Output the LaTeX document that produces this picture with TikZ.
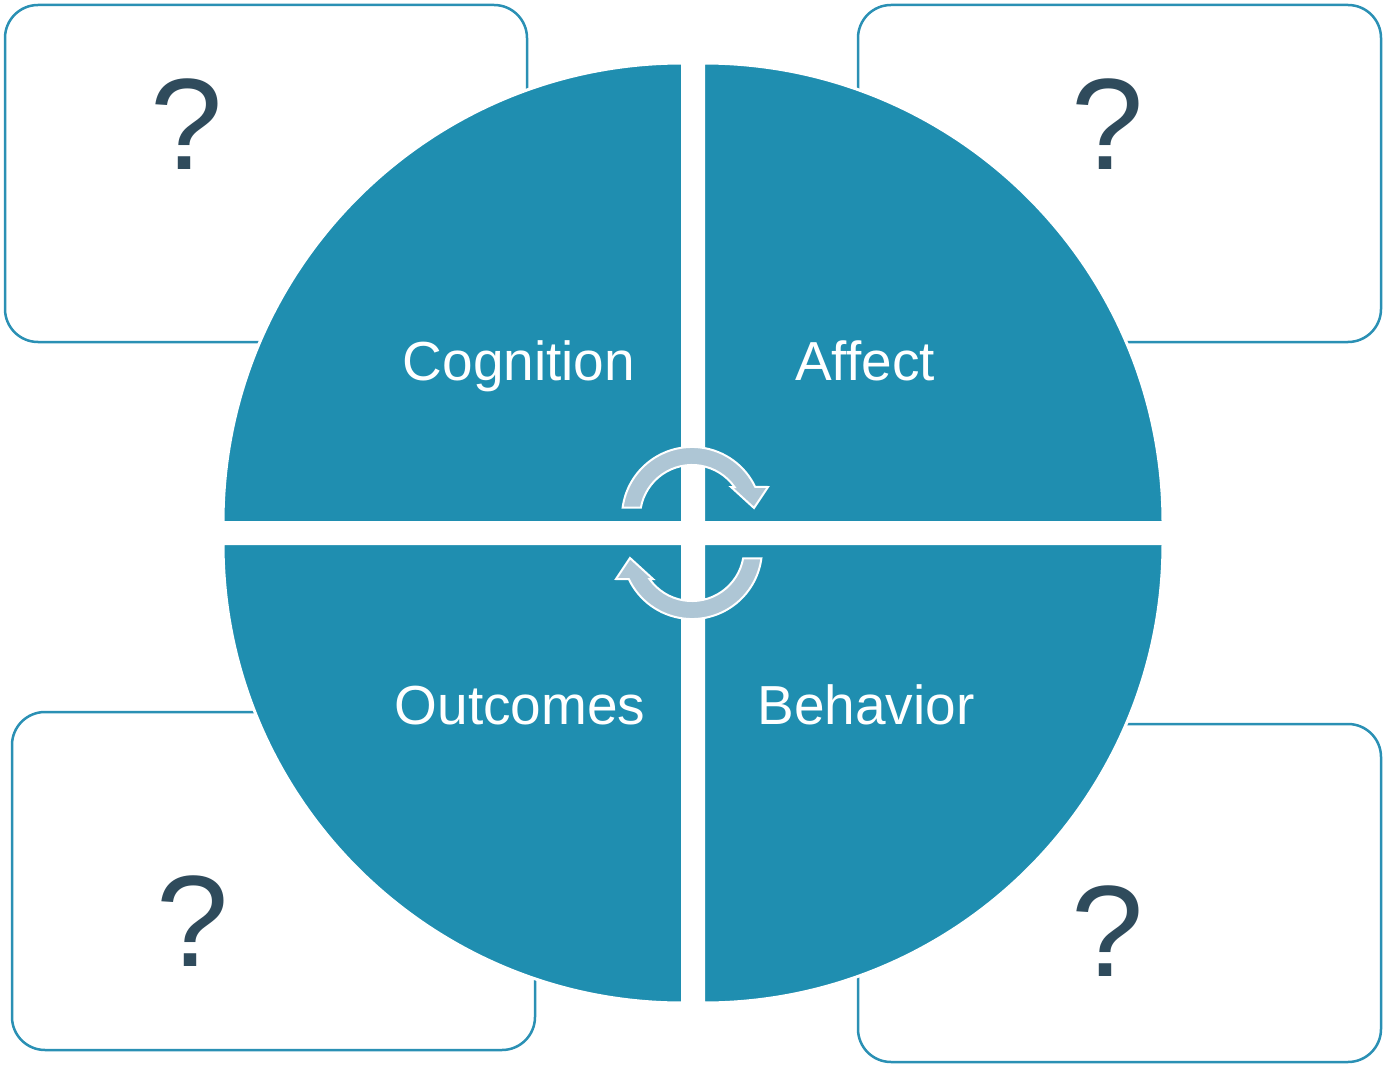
\documentclass[tikz,border=0pt]{standalone}
\usepackage{fontspec}
\setmainfont{Liberation Sans}
\definecolor{cmTeal}{HTML}{1F8EB0}
\definecolor{cmLine}{HTML}{2A90B4}
\definecolor{cmArrow}{HTML}{AEC6D5}
\definecolor{cmSlate}{HTML}{2F4B5C}
\usetikzlibrary{positioning}

\begin{document}
\begin{tikzpicture}[x=1pt, y=-1pt,
    notebox/.style={cmLine, line width=2.5pt, rounded corners=33pt},
    quarter/.style={fill=cmTeal, draw=white, line width=3pt},
    cyclearrow/.style={fill=cmArrow, draw=white, line width=2pt, line join=miter},
    label/.style={text=white, font=\fontsize{55}{60}\selectfont, anchor=base},
    qmark/.style={text=cmSlate, font=\fontsize{130}{140}\selectfont, anchor=base}]
  \useasboundingbox (0,0) rectangle (1384,1067);
  % boxes behind the circle
  \draw[notebox] (5,5) rectangle (527,342);
  \draw[notebox] (858,5) rectangle (1381,342);
  \draw[notebox] (12,712) rectangle (535,1050);
  \draw[notebox] (858,724) rectangle (1381,1062);
  % the four quarters
  \draw[quarter] (682.5,522.5) -- ++(-459.5,0) arc[start angle=180, end angle=270, radius=459.5] -- cycle;
  \draw[quarter] (703.5,522.5) -- ++(0,-459.5) arc[start angle=270, end angle=360, radius=459.5] -- cycle;
  \draw[quarter] (703.5,543.5) -- ++(459.5,0) arc[start angle=0, end angle=90, radius=459.5] -- cycle;
  \draw[quarter] (682.5,543.5) -- ++(0,459.5) arc[start angle=90, end angle=180, radius=459.5] -- cycle;
  % cycle arrows
  \draw[cyclearrow] (622.6,507.7) arc[start angle=187.6, end angle=334.6, radius=70]
    -- (768,487) -- (754,508) -- (731,487) -- (734.5,487)
    arc[start angle=324.8, end angle=190.3, radius=52] -- cycle;
  \begin{scope}[rotate around={180:(692,533)}]
    \draw[cyclearrow] (622.6,507.7) arc[start angle=187.6, end angle=334.6, radius=70]
      -- (768,487) -- (754,508) -- (731,487) -- (734.5,487)
      arc[start angle=324.8, end angle=190.3, radius=52] -- cycle;
  \end{scope}
  % labels
  \node[label] (cognition) at (519,380) {Cognition};
  \node[label] (affect) at (865,380) {Affect};
  \node[label] (outcomes) at (520,724) {Outcomes};
  \node[label] (behavior) at (866,724) {Behavior};
  \node[qmark] (qTL) at (187,170) {?};
  \node[qmark] (qTR) at (1108,170) {?};
  \node[qmark] (qBL) at (193,966) {?};
  \node[qmark] (qBR) at (1108,976) {?};
\end{tikzpicture}
\end{document}
